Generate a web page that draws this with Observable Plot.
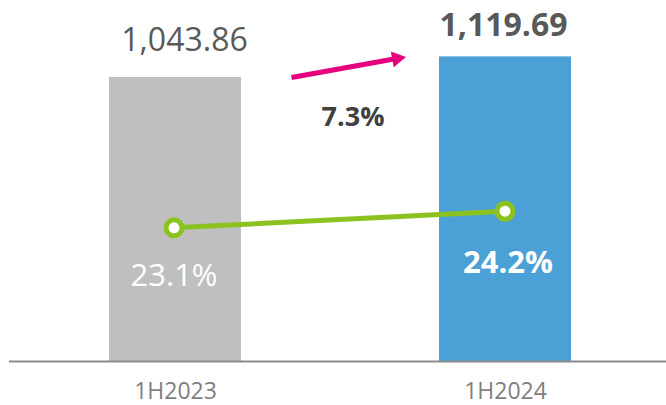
<!DOCTYPE html>
<html><head><meta charset="utf-8">
<script src="https://cdn.jsdelivr.net/npm/d3@7"></script>
<script src="https://cdn.jsdelivr.net/npm/@observablehq/plot@0.6"></script>
<style>
html,body{margin:0;padding:0;background:#fff;}
#chart{position:relative;width:666px;height:405px;overflow:hidden;}
#chart svg{position:absolute;left:0;top:0;}
</style></head><body><div id="chart"></div>
<script>
// ---- data ----
const categories = ["1H2023", "1H2024"];
const revenue = [1043.86, 1119.69];
const revenueLabels = ["1,043.86", "1,119.69"];
const marginPct = [23.1, 24.2];
const marginLabels = ["23.1%", "24.2%"];
const growthLabel = ["7.3%"];
const barColors = ["#bfbfbf", "#4ba0d6"];
// arrow annotation, in category-index units along x
const arrowX = [0.355, 0.701];

// ---- layout ----
const W = 666, H = 405;
const font = '"Open Sans", sans-serif';
const mb = 44;
const yDomain = [0, 1327];
const pctDomain = [11.324, 38.163];
const xIdxDomain = [-173.5 / 331, (666 - 173.5) / 331];

const data = categories.map((c, i) => ({
  cat: c, i, value: revenue[i], label: revenueLabels[i],
  pct: marginPct[i], pctLabel: marginLabels[i]
}));

const chart = document.getElementById("chart");

// base layer: bars, baseline, axis, value labels
const base = Plot.plot({
  width: W, height: H, marginTop: 0, marginBottom: mb, marginLeft: 9, marginRight: 0,
  style: {fontFamily: font, background: "transparent", overflow: "visible"},
  x: {domain: categories, paddingInner: 0.5985, paddingOuter: 0.2947, align: 0.514, label: null},
  y: {domain: yDomain, axis: null},
  color: {domain: categories, range: barColors},
  marks: [
    Plot.barY(data, {x: "cat", y: "value", fill: "cat"}),
    Plot.ruleY([0], {stroke: "#8c8c8c", strokeWidth: 2}),
    Plot.axisX({tickSize: 0, tickPadding: 21, fontSize: 23, color: "#7f7f7f", label: null}),
    Plot.text(data.filter(d => d.i === 0), {x: "cat", y: "value", text: "label", dx: 9, dy: -37, fontSize: 32, fill: "#595959"}),
    Plot.text(data.filter(d => d.i === 1), {x: "cat", y: "value", text: "label", dx: -2, dy: -31.5, fontSize: 32, fontWeight: "bold", fill: "#595959"})
  ]
});
chart.appendChild(base);

// annotation layer: growth arrow + label
const yS = d3.scaleLinear(yDomain, [H - mb, 0]);
const xS = d3.scaleLinear(xIdxDomain, [0, W]);
const p0 = [xS(arrowX[0]), yS(revenue[0])];
const p1 = [xS(arrowX[1]), yS(revenue[1])];
const dxp = p1[0] - p0[0], dyp = p1[1] - p0[1];
const len = Math.hypot(dxp, dyp);
const ux = dxp / len, uy = dyp / len;
const headR = 6;
const triY = Math.sqrt(headR * headR * Math.PI / (Math.sqrt(3) * 3));
const centroid = [p1[0] - ux * 2 * triY, p1[1] - uy * 2 * triY];
const lineEnd = [p1[0] - ux * 2.6 * triY, p1[1] - uy * 2.6 * triY];
const angle = Math.atan2(dyp, dxp) * 180 / Math.PI; // screen degrees
const arrowLine = [{x1: arrowX[0], y1: revenue[0], x2: xS.invert(lineEnd[0]), y2: yS.invert(lineEnd[1])}];
const arrowHead = [{x: xS.invert(centroid[0]), y: yS.invert(centroid[1])}];
const growthPos = [{x: 0.541, y: (revenue[0] + revenue[1]) / 2, t: growthLabel[0]}];

const anno = Plot.plot({
  width: W, height: H, marginTop: 0, marginBottom: mb, marginLeft: 0, marginRight: 0,
  style: {fontFamily: font, background: "transparent", overflow: "visible"},
  x: {type: "linear", domain: xIdxDomain, axis: null},
  y: {domain: yDomain, axis: null},
  marks: [
    Plot.link(arrowLine, {x1: "x1", y1: "y1", x2: "x2", y2: "y2", stroke: "#e6007e", strokeWidth: 5}),
    Plot.dot(arrowHead, {x: "x", y: "y", symbol: "triangle", r: headR, fill: "#e6007e", stroke: "none", rotate: 90 + angle}),
    Plot.text(growthPos, {x: "x", y: "y", text: "t", dy: 50.5, fontSize: 27, fontWeight: "bold", fill: "#404040"})
  ]
});
chart.appendChild(anno);

// line layer: margin % on its own scale
const lineLayer = Plot.plot({
  width: W, height: H, margin: 0,
  style: {fontFamily: font, background: "transparent", overflow: "visible"},
  x: {type: "linear", domain: xIdxDomain, axis: null},
  y: {domain: pctDomain, axis: null},
  marks: [
    Plot.line(data, {x: "i", y: "pct", stroke: "#8cc220", strokeWidth: 5}),
    Plot.dot(data, {x: "i", y: "pct", r: 8, fill: "white", stroke: "#8cc220", strokeWidth: 5}),
    Plot.text(data.filter(d => d.i === 0), {x: "i", y: "pct", text: "pctLabel", dy: 48, fontSize: 31, fill: "white"}),
    Plot.text(data.filter(d => d.i === 1), {x: "i", y: "pct", text: "pctLabel", dx: 3, dy: 52, fontSize: 31, fontWeight: "bold", fill: "white"})
  ]
});
chart.appendChild(lineLayer);
</script>
</body></html>
